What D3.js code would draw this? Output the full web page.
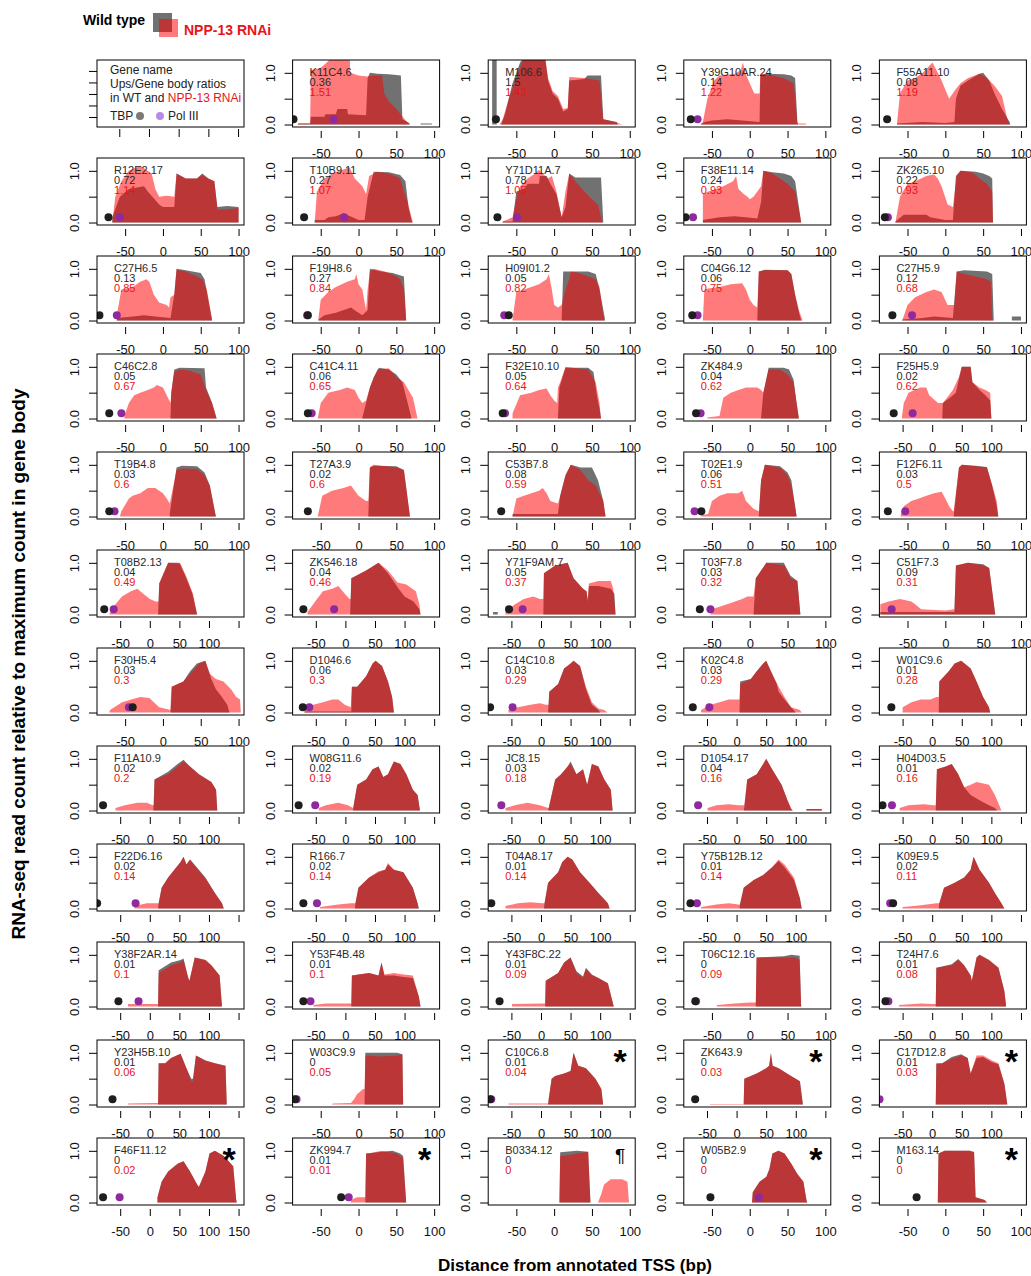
<!DOCTYPE html>
<html>
<head>
<meta charset="utf-8">
<script src="https://cdn.jsdelivr.net/npm/d3@7"></script>
<style>
body { margin: 0; background: #fff; }
svg { font-family: "Liberation Sans", Arial, sans-serif; }
</style>
</head>
<body>
<script>
// genes in reading order (the first grid cell is the key box)
const genes = ["K11C4.6","M106.6","Y39G10AR.24","F55A11.10",
  "R12E2.17","T10B9.11","Y71D11A.7","F38E11.14","ZK265.10",
  "C27H6.5","F19H8.6","H09I01.2","C04G6.12","C27H5.9",
  "C46C2.8","C41C4.11","F32E10.10","ZK484.9","F25H5.9",
  "T19B4.8","T27A3.9","C53B7.8","T02E1.9","F12F6.11",
  "T08B2.13","ZK546.18","Y71F9AM.7","T03F7.8","C51F7.3",
  "F30H5.4","D1046.6","C14C10.8","K02C4.8","W01C9.6",
  "F11A10.9","W08G11.6","JC8.15","D1054.17","H04D03.5",
  "F22D6.16","R166.7","T04A8.17","Y75B12B.12","K09E9.5",
  "Y38F2AR.14","Y53F4B.48","Y43F8C.22","T06C12.16","T24H7.6",
  "Y23H5B.10","W03C9.9","C10C6.8","ZK643.9","C17D12.8",
  "F46F11.12","ZK994.7","B0334.12","W05B2.9","M163.14"];

const wtRatio = [0.36,1.5,0.14,0.08, 0.72,0.27,0.78,0.24,0.22, 0.13,0.27,0.05,0.06,0.12,
  0.05,0.06,0.05,0.04,0.02, 0.03,0.02,0.08,0.06,0.03, 0.04,0.04,0.05,0.03,0.09,
  0.03,0.06,0.03,0.03,0.01, 0.02,0.02,0.03,0.04,0.01, 0.02,0.02,0.01,0.01,0.02,
  0.01,0.01,0.01,0,0.01, 0.01,0,0.01,0,0.01, 0,0.01,0,0,0];

const rnaiRatio = [1.51,1.43,1.22,1.19, 1.14,1.07,1.05,0.93,0.93, 0.85,0.84,0.82,0.75,0.68,
  0.67,0.65,0.64,0.62,0.62, 0.6,0.6,0.59,0.51,0.5, 0.49,0.46,0.37,0.32,0.31,
  0.3,0.3,0.29,0.29,0.28, 0.2,0.19,0.18,0.16,0.16, 0.14,0.14,0.14,0.14,0.11,
  0.1,0.1,0.09,0.09,0.08, 0.06,0.05,0.04,0.03,0.03, 0.02,0.01,0,0,0];

// right end of the plotted window (bp); every window starts at -80
const xMax = [100,100,100,100, 100,100,100,100,100, 100,100,100,100,100,
  100,100,100,100,150, 100,100,100,100,100, 150,150,150,100,100,
  100,150,150,150,150, 150,150,150,150,150, 150,150,150,150,150,
  150,150,150,100,150, 150,100,150,150,150, 150,100,100,100,100];

const tbpPos = [-86,-77,-78,-77, -72,-72,-75,-85,-80, -84,-67,-60,-76,-70,
  -71,-67,-68,-71,-65, -71,-67,-70,-64,-76, -77,-71,-54,-66,null,
  -40,-72,-86,-74,-69, -79,-79,null,null,-84, -89,-71,-84,-78,-66,
  -53,-71,-70,-72,-79, -63,-84,-86,-70,null, -79,-23,null,-52,-38];

const polPos = [-33,null,-69,null, -57,-19,-49,-75,-76, -61,-68,-66,-69,-44,
  -55,-62,-65,-65,-33, -64,null,null,-73,-53, -61,-19,-31,-52,-71,
  -45,-61,-48,-46,null, null,-51,-67,-65,-68, -24,-48,null,-67,-71,
  -19,-59,null,-71,-74, null,-82,-84,null,-89, -51,-13,null,12,null];

const marks = ["","","","", "","","","","", "","","","","", "","","","","",
  "","","","","", "","","","","", "","","","","", "","","","","",
  "","","","","", "","","","","", "","","*","*","*", "*","*","\u00b6","*","*"];

// wild type profiles [bp, relative count]
const wtProfiles = [
  [[-80,0],[-80,.02],[-64,.02],[-63,.15],[-45,.15],[-44,.2],[-30,.2],[-28,.3],[-15,.3],[-14,.2],[10,.18],[12,.9],[15,1.0],[25,.98],[40,.97],[56,.95],[58,.1],[67,.03],[68,0],[82,0],[82,.02],[97,.02],[97,0]],
  [[-82,0],[-82,1.3],[-76,1.3],[-76,0],[-70,0],[-65,.2],[-55,.8],[-45,1.2],[-40,1.3],[-12,1.3],[-8,.85],[-2,.6],[5,.5],[12,.25],[18,.3],[20,.85],[40,.88],[44,.95],[62,.95],[65,.1],[83,.05],[84,0]],
  [[-65,0],[-60,.05],[-50,.08],[-30,.1],[-10,.08],[13,.05],[14,.95],[20,.98],[45,.97],[55,.95],[60,.9],[63,.05],[64,0]],
  [[-64,0],[-64,.02],[-30,.05],[0,.03],[12,.05],[14,.5],[20,.75],[30,.85],[45,.98],[50,1.0],[58,.85],[65,.6],[75,.3],[85,.05],[86,0]],
  [[-67,0],[-67,.1],[-57,.5],[-45,.65],[-25,.7],[-20,.6],[-5,.35],[0,.3],[15,.3],[18,.95],[30,.85],[45,.85],[52,.95],[60,.85],[68,.8],[72,.3],[85,.32],[100,.3],[100,0]],
  [[-58,0],[-58,.05],[-45,.05],[-40,.1],[-30,.12],[-20,.18],[-8,.1],[0,.05],[8,.05],[12,.5],[20,.98],[40,.97],[55,.92],[62,.8],[66,.3],[70,.05],[71,0]],
  [[-68,0],[-68,.02],[-55,.02],[-50,.6],[-40,.65],[-35,.75],[-20,.75],[-19,.9],[-10,.9],[-5,.75],[3,.55],[10,.1],[15,.3],[20,.95],[28,.87],[62,.87],[65,0]],
  [[-62,0],[-62,.05],[-40,.1],[-20,.12],[-5,.1],[10,.08],[15,.4],[18,1.0],[30,.97],[45,.95],[55,.9],[60,.8],[65,.3],[68,0]],
  [[-66,0],[-66,.02],[-55,.15],[-25,.15],[-20,.1],[0,.05],[10,.05],[14,.9],[20,1.0],[40,.98],[50,.95],[58,.9],[62,.85],[63,0]],
  [[-61,0],[-61,.05],[-40,.08],[-25,.1],[-10,.08],[10,.05],[15,.5],[18,1.0],[30,.97],[50,.92],[55,.8],[60,.4],[65,0]],
  [[-53,0],[-53,.02],[-45,.1],[-30,.15],[-10,.25],[-5,.2],[5,.1],[12,.2],[15,1.0],[30,.95],[45,.92],[60,.85],[63,0]],
  [[-55,0],[10,0],[10,.05],[12,.95],[45,.95],[55,.9],[60,.6],[67,.05],[67,0]],
  [[-62,0],[10,0],[10,.02],[12,.95],[20,.98],[50,.97],[55,.9],[60,.5],[66,.1],[68,0]],
  [[-57,0],[-57,.02],[-30,.05],[-15,.08],[10,.05],[15,.95],[25,.97],[55,.95],[62,.9],[64,0],[88,0],[88,.08],[100,.08],[100,0]],
  [[-51,0],[10,0],[11,.5],[15,.95],[22,.98],[55,.97],[57,.6],[65,.3],[71,0]],
  [[-54,0],[5,0],[5,.02],[10,.3],[15,.6],[20,.8],[27,.98],[40,.95],[50,.85],[58,.7],[65,.3],[70,0]],
  [[-55,0],[5,0],[5,.02],[7,.6],[15,.98],[45,.98],[52,.9],[57,.4],[60,.2],[62,0]],
  [[-56,0],[15,0],[15,.02],[18,.5],[25,.98],[45,.98],[52,.95],[58,.75],[62,.3],[65,0]],
  [[-51,0],[17,0],[18,.3],[30,.4],[40,.5],[45,.75],[50,1.0],[65,1.0],[68,.7],[80,.55],[90,.45],[98,.35],[100,0]],
  [[-57,0],[9,0],[9,.05],[18,.95],[25,.98],[45,.97],[55,.85],[62,.6],[70,0]],
  [[-54,0],[13,0],[13,.05],[15,.95],[20,.98],[50,.97],[60,.9],[68,0]],
  [[-55,0],[-55,.05],[5,.05],[8,.4],[15,.8],[22,1.0],[35,.95],[50,.95],[58,.7],[65,.3],[68,0]],
  [[-65,0],[12,0],[15,.7],[20,1.0],[40,.97],[50,.85],[55,.7],[60,.2],[62,0]],
  [[-59,0],[11,0],[18,.95],[22,1.0],[40,.98],[55,.96],[62,.6],[68,.2],[70,0]],
  [[-68,0],[14,0],[16,.6],[31,1.0],[50,1.0],[60,.75],[72,.4],[80,0]],
  [[-64,0],[8,0],[10,.7],[35,.85],[56,1.0],[72,.8],[90,.5],[100,.35],[115,.25],[125,.1],[127,0]],
  [[-81,0],[-81,.05],[-73,.05],[-73,0],[4,0],[5,.8],[24,.95],[45,1.0],[55,.7],[71,.5],[77,.45],[79,.25],[81,.55],[97,.55],[118,.5],[124,.4],[126,0]],
  [[-52,0],[5,0],[8,.7],[22,1.0],[45,1.0],[54,.75],[63,.65],[67,0]],
  [[-86,0],[-86,.05],[12,.05],[14,.95],[30,1.0],[50,.97],[58,.9],[66,0]],
  [[-71,0],[10,0],[12,.5],[27,.6],[36,.8],[45,.95],[56,1.0],[64,.65],[70,.45],[78,.3],[85,.15],[88,0]],
  [[-69,0],[-69,.02],[10,.02],[11,.5],[20,.5],[35,.7],[46,.95],[51,1.0],[62,.9],[72,.6],[79,.3],[82,0]],
  [[-55,0],[12,0],[14,.4],[29,.55],[39,.85],[50,.95],[55,1.0],[66,.9],[76,.45],[86,.15],[97,.05],[100,0]],
  [[-60,0],[5,0],[6,.6],[24,.65],[34,.8],[45,.95],[50,1.0],[60,.75],[68,.55],[71,.4],[81,.25],[92,.1],[100,0]],
  [[-50,0],[11,0],[12,.6],[28,.8],[38,.95],[49,1.0],[65,.85],[75,.6],[86,.3],[96,.1],[98,0]],
  [[-58,0],[6,0],[8,.6],[31,.75],[47,.9],[57,.98],[68,.85],[83,.7],[104,.55],[112,.4],[114,0]],
  [[-45,0],[13,0],[14,.1],[20,.5],[35,.6],[46,.8],[56,.85],[64,.65],[72,.7],[82,.95],[93,.9],[103,.7],[114,.4],[122,.3],[126,0]],
  [[-60,0],[12,0],[13,.05],[24,.6],[34,.7],[45,.85],[50,.95],[60,.7],[71,.8],[78,.5],[86,.9],[97,.85],[107,.6],[118,.4],[121,0]],
  [[-49,0],[12,0],[13,.05],[18,.6],[34,.7],[45,.9],[50,1.0],[60,.8],[76,.5],[86,.2],[92,.03],[95,0],[118,0],[118,.03],[144,.03],[144,0]],
  [[-55,0],[6,0],[8,.8],[23,.85],[33,.9],[44,.7],[54,.45],[65,.3],[80,.2],[96,.1],[106,.05],[110,0]],
  [[-26,0],[14,0],[15,.1],[20,.4],[31,.6],[52,.9],[57,1.0],[62,.85],[68,.95],[78,.82],[94,.6],[110,.3],[122,.1],[125,0]],
  [[-43,0],[16,0],[17,.1],[22,.4],[40,.6],[56,.7],[67,.75],[72,.85],[82,.75],[98,.7],[114,.4],[122,.1],[124,0]],
  [[-60,0],[5,0],[6,.1],[12,.5],[29,.7],[36,.9],[45,1.0],[53,.95],[66,.7],[82,.5],[97,.3],[113,.1],[116,0]],
  [[-60,0],[5,0],[6,.1],[12,.4],[29,.55],[45,.65],[60,.8],[71,.92],[81,.8],[97,.55],[107,.2],[110,0]],
  [[-50,0],[11,0],[12,.1],[20,.4],[38,.5],[54,.6],[65,.75],[70,1.0],[80,.75],[96,.5],[106,.3],[117,.1],[122,0]],
  [[-37,0],[14,0],[15,.7],[36,.85],[52,.9],[57,.93],[65,.55],[67,.5],[76,.95],[94,.9],[104,.8],[118,.6],[122,0]],
  [[-54,0],[10,0],[11,.6],[40,.65],[56,.6],[61,.85],[66,.6],[82,.6],[98,.57],[114,.55],[124,.2],[127,0]],
  [[-49,0],[7,0],[8,.5],[29,.65],[39,.85],[50,.95],[60,.68],[71,.58],[76,.75],[86,.62],[97,.55],[113,.45],[123,0]],
  [[-44,0],[8,0],[9,.95],[45,.97],[55,1.0],[66,.98],[68,0]],
  [[-56,0],[6,0],[7,.75],[33,.82],[44,.92],[54,.8],[65,.6],[67,.5],[75,.95],[80,1.0],[96,.9],[112,.75],[122,.3],[125,0]],
  [[-37,0],[14,0],[15,.8],[26,.8],[36,.9],[52,.98],[62,.7],[70,.5],[73,.5],[78,.95],[94,.85],[110,.8],[128,.75],[130,0]],
  [[8,0],[9,1.0],[51,1.0],[58,.97],[59,0]],
  [[-55,0],[12,0],[13,.1],[18,.5],[24,.55],[39,.6],[50,.65],[55,1.0],[63,.75],[76,.7],[92,.5],[102,.3],[105,0]],
  [[12,0],[13,.5],[34,.6],[50,.7],[55,.75],[58,1.0],[61,.75],[71,.7],[92,.55],[107,.45],[112,0]],
  [[6,0],[7,.8],[17,.8],[33,.92],[49,.97],[60,.9],[65,.6],[75,.9],[86,.92],[101,.82],[112,.78],[122,.4],[127,0]],
  [[13,0],[13,.1],[20,.4],[31,.6],[47,.75],[57,.8],[68,.6],[80,.35],[83,.3],[94,.6],[101,.95],[110,1.0],[125,.9],[141,.7],[146,.05],[147,0]],
  [[9,0],[10,.95],[25,.97],[45,1.0],[55,.95],[59,.9],[63,0]],
  [[7,0],[8,.97],[30,1.0],[45,.98],[48,0]],
  [[3,0],[4,.2],[13,.4],[22,.5],[26,.65],[30,.95],[38,1.0],[46,.95],[55,.75],[63,.55],[71,.4],[75,.05],[76,0]],
  [[-10,0],[-9,.95],[-1,1.0],[32,1.0],[38,.97],[40,.1],[52,.05],[55,0]]
];

// NPP-13 RNAi profiles [bp, relative count]
const rnaiProfiles = [
  [[-80,0],[-80,.02],[-64,.02],[-63,1.05],[-50,1.1],[-42,1.2],[-35,1.3],[-20,1.5],[-12,1.5],[-11,1.0],[0,.95],[12,.93],[20,.95],[31,.95],[34,.6],[40,.45],[50,.3],[60,.12],[67,0]],
  [[-72,0],[-68,.1],[-60,.5],[-50,.9],[-40,1.3],[-12,1.3],[-8,.9],[-2,.65],[5,.55],[12,.3],[18,.32],[20,.92],[40,.9],[60,.85],[65,.1],[80,.05],[90,0]],
  [[-65,0],[-62,.05],[-56,.5],[-47,.85],[-40,.95],[-20,.98],[-12,1.05],[-9,1.2],[-6,1.0],[0,.8],[6,.6],[13,.6],[14,.98],[30,.95],[45,.9],[58,.8],[60,.55],[63,.02],[74,.02],[75,0]],
  [[-64,0],[-60,.6],[-50,.85],[-40,.9],[-30,1.0],[-17,1.2],[-10,1.0],[-5,.85],[5,.5],[12,.65],[20,.8],[30,.9],[45,.98],[55,.9],[65,.75],[75,.55],[82,.1],[85,0]],
  [[-67,0],[-63,.5],[-55,.8],[-45,1.0],[-30,1.1],[-25,1.05],[-15,.95],[-10,.65],[-5,.5],[5,.52],[15,.5],[18,.95],[30,.85],[45,.85],[52,.92],[60,.85],[68,.8],[72,.25],[85,.25],[100,.28],[100,0]],
  [[-58,0],[-55,.6],[-45,.85],[-35,.95],[-25,1.0],[-12,1.07],[-5,.85],[5,.7],[10,.55],[14,.9],[25,.98],[40,.95],[55,.85],[60,.6],[65,.4],[70,.1],[72,0]],
  [[-68,0],[-68,.02],[-55,.1],[-50,.45],[-45,.7],[-35,.85],[-25,.95],[-20,1.02],[-15,.95],[-8,.85],[-3,.9],[3,.6],[10,.1],[15,.6],[20,.95],[28,.8],[40,.6],[50,.45],[58,.35],[63,.05],[64,0]],
  [[-62,0],[-62,.55],[-55,.6],[-45,.65],[-35,.7],[-22,.8],[-18,.9],[-15,.65],[-8,.55],[-3,.5],[0,.45],[5,.5],[10,.6],[15,.7],[18,1.0],[30,.95],[40,.85],[50,.75],[60,.6],[67,.1],[68,0]],
  [[-66,0],[-60,.5],[-50,.75],[-40,.8],[-25,.9],[-15,.93],[-10,.85],[-5,.7],[3,.35],[10,.3],[15,.9],[20,1.0],[35,.97],[45,.85],[55,.75],[62,.6],[63,0]],
  [[-61,0],[-61,.1],[-55,.6],[-40,.65],[-30,.75],[-22,.8],[-18,.75],[-12,.5],[-5,.35],[5,.3],[8,.25],[10,.45],[15,.5],[18,.98],[30,.95],[45,.85],[52,.8],[58,.6],[64,.1],[65,0]],
  [[-53,0],[-53,.05],[-50,.4],[-40,.55],[-30,.65],[-15,.75],[-5,.8],[-3,.9],[0,.7],[5,.6],[10,.2],[12,.6],[15,.95],[20,1.0],[35,.95],[50,.85],[55,.8],[60,.6],[63,0]],
  [[-55,0],[-55,.02],[-50,.55],[-40,.6],[-30,.65],[-20,.7],[-10,.8],[-7,.9],[-3,.6],[0,.3],[5,.25],[10,.3],[15,.6],[20,.8],[22,.95],[30,.93],[40,.88],[55,.8],[60,.65],[65,.1],[67,0]],
  [[-62,0],[-60,.6],[-55,.62],[-40,.65],[-25,.7],[-10,.72],[-5,.6],[0,.4],[5,.3],[10,.25],[12,.95],[20,.97],[50,.97],[55,.9],[60,.5],[65,.2],[70,0]],
  [[-57,0],[-50,.3],[-40,.45],[-25,.55],[-15,.6],[-5,.55],[3,.3],[12,.3],[15,.95],[25,.9],[40,.85],[55,.8],[60,.75],[62,.05],[63,0]],
  [[-51,0],[-51,.05],[-45,.3],[-38,.45],[-30,.5],[-20,.55],[-12,.6],[-8,.65],[0,.6],[5,.45],[10,.3],[11,.5],[15,.9],[22,.95],[35,.93],[50,.85],[57,.55],[65,.3],[71,0]],
  [[-54,0],[-50,.3],[-40,.5],[-25,.55],[-15,.6],[-5,.55],[0,.4],[5,.3],[10,.35],[15,.6],[25,.95],[40,.97],[50,.8],[60,.7],[72,.4],[78,0]],
  [[-55,0],[-55,.1],[-45,.45],[-30,.5],[-20,.55],[-10,.58],[-5,.45],[0,.35],[4,.3],[5,.6],[8,.7],[15,1.0],[30,.97],[45,.95],[55,.7],[60,.3],[62,0]],
  [[-56,0],[-56,.02],[-40,.05],[-35,.4],[-25,.5],[-15,.55],[-5,.6],[10,.6],[15,.55],[18,.5],[25,.95],[40,.95],[50,.85],[58,.7],[62,.3],[65,0]],
  [[-51,0],[-51,.05],[-48,.3],[-40,.5],[-30,.55],[-20,.6],[-10,.6],[-5,.45],[5,.35],[10,.3],[18,.3],[25,.4],[35,.55],[45,.8],[50,1.0],[65,1.0],[68,.7],[80,.6],[90,.55],[98,.5],[100,0]],
  [[-57,0],[-55,.1],[-45,.35],[-40,.4],[-30,.45],[-20,.55],[-10,.55],[-5,.5],[0,.45],[5,.35],[9,.25],[18,.9],[25,.93],[45,.92],[55,.8],[62,.6],[70,0]],
  [[-54,0],[-48,.4],[-35,.5],[-20,.55],[-10,.6],[-5,.5],[0,.4],[5,.35],[10,.3],[13,.3],[15,.95],[20,1.0],[50,.95],[60,.9],[68,0]],
  [[-55,0],[-50,.35],[-40,.4],[-30,.45],[-20,.5],[-15,.55],[-10,.45],[-5,.3],[5,.25],[8,.4],[15,.8],[22,1.0],[35,.9],[45,.7],[55,.6],[65,.3],[68,0]],
  [[-65,0],[-65,.02],[-55,.05],[-50,.3],[-40,.4],[-30,.45],[-15,.45],[-10,.5],[-5,.3],[5,.15],[12,.1],[15,.7],[20,1.0],[40,.95],[50,.8],[55,.6],[60,.2],[62,0]],
  [[-59,0],[-59,.05],[-55,.2],[-45,.3],[-35,.35],[-25,.4],[-15,.45],[-5,.48],[0,.35],[5,.2],[10,.1],[11,.1],[18,.95],[22,1.0],[40,.97],[55,.95],[62,.6],[68,.3],[70,0]],
  [[-68,0],[-68,.02],[-58,.2],[-47,.35],[-32,.45],[-21,.5],[-11,.4],[0,.3],[10,.25],[15,.25],[16,.6],[31,1.0],[52,.98],[63,.7],[73,.4],[80,0]],
  [[-64,0],[-64,.05],[-48,.3],[-38,.45],[-22,.5],[-12,.55],[-1,.4],[7,.3],[9,.3],[10,.7],[35,.85],[56,1.0],[72,.85],[88,.62],[103,.58],[119,.45],[125,.2],[127,0]],
  [[-60,0],[-60,.05],[-44,.2],[-29,.3],[-13,.35],[-2,.3],[4,.3],[5,.8],[24,.95],[45,1.0],[55,.7],[71,.5],[77,.45],[79,.3],[81,.6],[97,.65],[118,.65],[122,.5],[126,0]],
  [[-52,0],[-50,.1],[-30,.2],[-10,.3],[-3,.35],[5,.35],[8,.7],[22,1.0],[46,.95],[54,.7],[63,.65],[67,0]],
  [[-86,0],[-86,.2],[-75,.25],[-60,.3],[-45,.25],[-40,.2],[-32,.1],[0,.08],[12,.1],[14,.95],[30,1.0],[50,.95],[58,.9],[66,0]],
  [[-71,0],[-70,.05],[-54,.2],[-42,.25],[-30,.3],[-18,.28],[-5,.1],[10,.05],[11,.5],[27,.6],[36,.75],[48,.95],[56,1.0],[62,.75],[70,.65],[80,.6],[90,.45],[97,.3],[102,.25],[103,0]],
  [[-69,0],[-69,.05],[-54,.15],[-38,.2],[-22,.25],[-12,.25],[-1,.15],[9,.1],[11,.5],[20,.5],[35,.7],[46,.95],[51,1.0],[62,.9],[72,.6],[79,.3],[82,0]],
  [[-55,0],[-55,.05],[-39,.1],[-18,.15],[-2,.18],[8,.15],[13,.15],[14,.4],[29,.55],[39,.85],[50,.95],[55,1.0],[66,.9],[76,.5],[86,.2],[97,.08],[107,.05],[112,0]],
  [[-60,0],[-60,.05],[-44,.15],[-29,.2],[-13,.25],[-2,.25],[5,.25],[6,.55],[24,.65],[34,.8],[45,.95],[50,1.0],[60,.75],[71,.5],[81,.3],[92,.1],[107,.05],[110,0]],
  [[-50,0],[-50,.1],[-35,.2],[-19,.25],[-3,.25],[7,.3],[11,.3],[12,.6],[28,.8],[38,.95],[49,1.0],[65,.85],[75,.6],[86,.3],[96,.1],[98,0]],
  [[-58,0],[-58,.05],[-42,.1],[-21,.15],[-5,.15],[5,.1],[7,.1],[8,.6],[31,.7],[47,.85],[57,.95],[68,.85],[83,.7],[104,.55],[112,.4],[114,0]],
  [[-45,0],[-45,.05],[-33,.1],[-12,.15],[4,.1],[13,.05],[14,.1],[20,.5],[35,.6],[46,.8],[56,.85],[64,.65],[72,.7],[82,.95],[93,.9],[103,.7],[114,.4],[122,.3],[126,0]],
  [[-60,0],[-60,.05],[-44,.1],[-23,.15],[-2,.1],[12,.05],[13,.05],[24,.6],[34,.7],[45,.85],[50,.9],[60,.7],[71,.8],[78,.5],[86,.9],[97,.85],[107,.6],[118,.4],[121,0]],
  [[-49,0],[-49,.05],[-34,.1],[-13,.12],[3,.1],[12,.1],[13,.1],[18,.6],[34,.7],[45,.9],[50,1.0],[60,.8],[76,.5],[86,.2],[92,.05],[95,0],[118,0],[118,.03],[144,.03],[144,0]],
  [[-55,0],[-55,.05],[-40,.1],[-14,.12],[2,.1],[6,.1],[8,.8],[23,.85],[33,.9],[44,.7],[54,.45],[65,.5],[75,.55],[96,.5],[106,.3],[117,0]],
  [[-26,0],[-26,.05],[-5,.1],[13,.1],[15,.1],[20,.4],[31,.6],[52,.9],[57,1.0],[62,.85],[68,.95],[78,.8],[94,.58],[110,.3],[122,.1],[125,0]],
  [[-43,0],[-43,.03],[-12,.08],[9,.1],[16,.1],[17,.1],[22,.4],[40,.6],[56,.72],[67,.75],[72,.88],[82,.75],[98,.7],[114,.4],[122,.1],[124,0]],
  [[-60,0],[-60,.05],[-39,.1],[-18,.12],[3,.1],[6,.1],[12,.5],[29,.7],[36,.9],[45,1.0],[53,.95],[66,.7],[82,.5],[97,.3],[113,.1],[116,0]],
  [[-60,0],[-60,.03],[-34,.08],[-13,.1],[3,.08],[6,.08],[12,.4],[29,.55],[45,.65],[60,.8],[71,.95],[81,.85],[97,.6],[107,.2],[110,0]],
  [[-50,0],[-50,.03],[-30,.05],[-9,.08],[7,.1],[12,.1],[20,.4],[38,.5],[54,.6],[65,.75],[70,1.0],[80,.75],[96,.5],[106,.3],[117,.1],[122,0]],
  [[-37,0],[-37,.05],[10,.05],[14,.05],[15,.65],[36,.8],[52,.85],[57,.9],[65,.55],[67,.5],[76,.95],[94,.9],[104,.8],[118,.6],[122,0]],
  [[-54,0],[-54,.03],[-33,.06],[-1,.06],[10,.06],[11,.6],[40,.65],[56,.6],[61,.85],[66,.62],[82,.65],[98,.62],[114,.6],[124,.2],[127,0]],
  [[-49,0],[-49,.05],[3,.06],[7,.06],[8,.5],[29,.65],[39,.85],[50,.95],[60,.65],[71,.55],[76,.72],[86,.6],[97,.55],[113,.45],[123,0]],
  [[-44,0],[-43,.03],[-20,.06],[0,.08],[8,.08],[9,.95],[60,.95],[66,.9],[68,0]],
  [[-56,0],[-56,.03],[-19,.06],[2,.05],[6,.05],[7,.75],[33,.8],[44,.9],[54,.8],[65,.6],[67,.5],[75,.95],[80,1.0],[96,.9],[112,.75],[122,.3],[125,0]],
  [[-37,0],[-37,.02],[5,.03],[14,.03],[15,.8],[26,.8],[36,.9],[52,.98],[62,.7],[70,.45],[73,.45],[78,.95],[94,.85],[110,.8],[128,.75],[130,0]],
  [[-35,0],[-34,.02],[-10,.03],[-6,.1],[-2,.2],[6,.3],[8,.3],[9,.95],[30,.93],[51,.95],[58,.97],[59,0]],
  [[-55,0],[-55,.02],[12,.02],[13,.1],[18,.5],[24,.55],[39,.6],[50,.65],[55,1.0],[63,.75],[76,.7],[92,.5],[102,.3],[105,0]],
  [[-45,0],[-45,.01],[5,.01],[12,.01],[13,.5],[34,.6],[50,.7],[55,.75],[58,.98],[61,.75],[71,.7],[92,.55],[107,.45],[112,0]],
  [[6,0],[7,.78],[17,.8],[33,.88],[49,.95],[60,.9],[65,.6],[75,.95],[86,.95],[101,.85],[112,.8],[122,.4],[127,0]],
  [[13,0],[13,.1],[20,.4],[31,.6],[47,.75],[57,.8],[68,.6],[80,.35],[83,.3],[94,.6],[101,.95],[110,1.0],[125,.9],[141,.7],[146,.05],[147,0]],
  [[-10,0],[-10,.05],[-2,.1],[9,.1],[10,.95],[14,.95],[30,1.0],[51,.95],[59,.85],[63,0]],
  [[7,0],[8,.9],[20,.92],[30,.95],[45,.98],[48,0],[58,0],[62,.15],[66,.35],[75,.45],[90,.45],[97,.4],[99,0]],
  [[3,0],[4,.2],[13,.4],[22,.5],[26,.65],[30,.95],[38,1.0],[46,.95],[55,.75],[63,.55],[71,.4],[75,.05],[76,0]],
  [[-10,0],[-9,.95],[-1,1.0],[32,1.0],[38,.98],[40,.1],[52,.05],[55,0]]
];

const xTickValues = [-50, 0, 50, 100, 150];
const yTickValues = [0, 0.5, 1];
const keyTicks = [0.6, 0.8, 1.0, 1.2, 1.4];

// colours
const wtColor = "#717171";
const rnaiColor = "rgba(255,0,0,0.52)";
const redText = "#e8141c";

// grid layout
const W = 147, H = 67;
const left0 = 97, top0 = 60, colStep = 195.6, rowStep = 98;
const nRows = 12;

const svg = d3.select("body").append("svg")
    .attr("width", 1031)
    .attr("height", 1276)
    .style("background", "#fff");

const y = d3.scaleLinear().domain([-0.048, 1.248]).range([H, 0]);

function cellPos(k) {
    const r = Math.floor(k / 5), c = k % 5;
    return {r: r, x: left0 + c * colStep, y: top0 + r * rowStep};
}

// --- key in the top-left cell
{
    const p = cellPos(0);
    const g = svg.append("g").attr("transform", `translate(${p.x},${p.y})`);
    const kx = d3.scaleLinear().domain([0.45, 1.44]).range([0, W]);
    const ky = d3.scaleLinear().domain([0.426, 1.59]).range([H, 0]);
    g.append("g").attr("transform", `translate(0,${H + 2})`)
        .call(d3.axisBottom(kx).tickValues(keyTicks).tickSize(8).tickFormat(""))
        .call(a => a.select(".domain").remove());
    g.append("g")
        .call(d3.axisLeft(ky).tickValues(keyTicks).tickSize(8).tickFormat(""))
        .call(a => a.select(".domain").remove());
    g.append("rect").attr("width", W).attr("height", H)
        .attr("fill", "none").attr("stroke", "#000");
    const t = g.append("g").attr("font-size", 12).attr("fill", "#222");
    t.append("text").attr("x", 13).attr("y", 14).text("Gene name");
    t.append("text").attr("x", 13).attr("y", 28).text("Ups/Gene body ratios");
    const l3 = t.append("text").attr("x", 13).attr("y", 42);
    l3.append("tspan").text("in WT and ");
    l3.append("tspan").attr("fill", redText).text("NPP-13 RNAi");
    t.append("text").attr("x", 13).attr("y", 60).text("TBP");
    g.append("circle").attr("cx", 43).attr("cy", 56).attr("r", 4).attr("fill", "#7a7a7a");
    g.append("circle").attr("cx", 63).attr("cy", 56).attr("r", 4).attr("fill", "#b98be6");
    t.append("text").attr("x", 71).attr("y", 60).text("Pol III");
}

// --- one small panel per gene
genes.forEach((gene, i) => {
    const p = cellPos(i + 1);
    const lo = -80, hi = xMax[i], pad = 0.04 * (hi - lo);
    const x = d3.scaleLinear().domain([lo - pad, hi + pad]).range([0, W]);
    const g = svg.append("g").attr("transform", `translate(${p.x},${p.y})`);

    g.append("clipPath").attr("id", "clip" + i)
        .append("rect").attr("width", W).attr("height", H);

    const area = d3.area()
        .x(d => x(d[0]))
        .y0(y(0))
        .y1(d => y(d[1]));

    const plot = g.append("g").attr("clip-path", `url(#clip${i})`);
    plot.append("path").datum(wtProfiles[i]).attr("d", area).attr("fill", wtColor);
    plot.append("path").datum(rnaiProfiles[i]).attr("d", area).attr("fill", rnaiColor);

    if (polPos[i] !== null)
        plot.append("circle").attr("cx", x(polPos[i])).attr("cy", y(0.1)).attr("r", 4).attr("fill", "#8f2a9e");
    if (tbpPos[i] !== null)
        plot.append("circle").attr("cx", x(tbpPos[i])).attr("cy", y(0.1)).attr("r", 4).attr("fill", "#1e1e1e");

    const txt = g.append("g").attr("font-size", 11);
    txt.append("text").attr("x", 17).attr("y", 16).attr("fill", "#2a2a2a").text(gene);
    txt.append("text").attr("x", 17).attr("y", 26).attr("fill", "#2a2a2a").text(String(wtRatio[i]));
    txt.append("text").attr("x", 17).attr("y", 36).attr("fill", redText).text(String(rnaiRatio[i]));

    if (marks[i]) {
        const star = marks[i] === "*";
        g.append("text")
            .attr("x", W - 15).attr("y", star ? 33 : 24)
            .attr("text-anchor", "middle")
            .attr("font-size", star ? 34 : 19)
            .attr("font-weight", star ? "bold" : "normal")
            .text(marks[i]);
    }

    g.append("rect").attr("width", W).attr("height", H)
        .attr("fill", "none").attr("stroke", "#000");

    // x axis: ticks hang below the box, labels up to 100 except in the bottom row
    const dom = x.domain();
    const ticks = xTickValues.filter(v => v >= dom[0] && v <= dom[1]);
    const lastRow = p.r === nRows - 1;
    g.append("g").attr("transform", `translate(0,${H + 4})`)
        .call(d3.axisBottom(x).tickValues(ticks).tickSize(7).tickPadding(11)
            .tickFormat(v => (lastRow || v <= 100) ? String(v) : ""))
        .call(a => a.select(".domain").remove())
        .call(a => a.selectAll("text").attr("font-size", 13).attr("font-family", null).attr("fill", "#111"));

    // y axis with rotated labels
    g.append("g")
        .call(d3.axisLeft(y).tickValues(yTickValues).tickSize(8)
            .tickFormat(v => v === 0.5 ? "" : d3.format(".1f")(v)))
        .call(a => a.select(".domain").remove())
        .call(a => a.selectAll("text")
            .attr("font-size", 13).attr("font-family", null).attr("fill", "#111")
            .attr("transform", "rotate(-90)")
            .attr("x", 0).attr("y", -18).attr("dy", null)
            .attr("text-anchor", "middle"));
});

// --- top legend
svg.append("text").attr("x", 83).attr("y", 25)
    .attr("font-size", 14).attr("font-weight", "bold").text("Wild type");
svg.append("rect").attr("x", 153).attr("y", 13).attr("width", 19).attr("height", 19).attr("fill", wtColor);
svg.append("rect").attr("x", 159).attr("y", 19).attr("width", 19).attr("height", 18).attr("fill", rnaiColor);
svg.append("text").attr("x", 184).attr("y", 35)
    .attr("font-size", 14).attr("font-weight", "bold").attr("fill", redText).text("NPP-13 RNAi");

// --- axis titles
svg.append("text")
    .attr("transform", "translate(25,664) rotate(-90)")
    .attr("text-anchor", "middle")
    .attr("font-size", 19).attr("font-weight", "bold")
    .text("RNA-seq read count relative to maximum count in gene body");
svg.append("text")
    .attr("x", 575).attr("y", 1271)
    .attr("text-anchor", "middle")
    .attr("font-size", 17).attr("font-weight", "bold")
    .text("Distance from annotated TSS (bp)");
</script>
</body>
</html>
